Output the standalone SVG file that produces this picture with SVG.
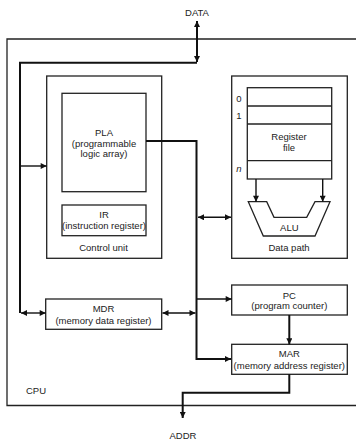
<svg xmlns="http://www.w3.org/2000/svg" width="356" height="439" viewBox="0 0 356 439">
<style>
.box{fill:none;stroke:#222;stroke-width:1.3}
.bus{fill:none;stroke:#111;stroke-width:2}
.ln{fill:none;stroke:#111;stroke-width:1.4}
.ar{marker-end:url(#ah)}
.dbl{marker-start:url(#ah);marker-end:url(#ah)}
text{font-family:"Liberation Sans",Arial,sans-serif;font-size:9.5px;fill:#222;text-anchor:middle}
</style>
<defs>
<marker id="ah" viewBox="0 0 10 10" refX="10" refY="5" markerWidth="7" markerHeight="6" markerUnits="userSpaceOnUse" orient="auto-start-reverse">
<path d="M0,0 L10,5 L0,10 z" fill="#111"/>
</marker>
<marker id="ahb" viewBox="0 0 10 10" refX="10" refY="5" markerWidth="9" markerHeight="6" markerUnits="userSpaceOnUse" orient="auto-start-reverse">
<path d="M0,0 L10,5 L0,10 z" fill="#111"/>
</marker>
</defs>
<g id="cpu">
<path class="box" d="M360,39 H7 V405.5 H360"/>
<text x="26" y="393.5" style="text-anchor:start">CPU</text>
</g>
<g id="control-unit">
<rect class="box" x="46.7" y="76" width="115" height="182.3"/>
<text x="103.5" y="251">Control unit</text>
</g>
<g id="pla">
<rect class="box" x="62" y="93.3" width="84" height="98.4"/>
<text x="104" y="136">PLA</text>
<text x="104" y="146.5">(programmable</text>
<text x="104" y="157">logic array)</text>
</g>
<g id="ir">
<rect class="box" x="62" y="205" width="84" height="30.7"/>
<text x="104" y="217.5">IR</text>
<text x="104" y="229">(instruction register)</text>
</g>
<g id="data-path">
<rect class="box" x="231.7" y="76" width="115.6" height="182.3"/>
<text x="289" y="251">Data path</text>
</g>
<g id="register-file">
<rect class="box" x="247.3" y="87.7" width="84.4" height="91.3"/>
<line class="box" x1="247.3" y1="106" x2="331.7" y2="106"/>
<line class="box" x1="247.3" y1="124" x2="331.7" y2="124"/>
<line class="box" x1="247.3" y1="160.7" x2="331.7" y2="160.7"/>
<text x="289" y="140">Register</text>
<text x="289" y="150.5">file</text>
<text x="239" y="101.5">0</text>
<text x="239" y="118.5">1</text>
<text x="239" y="171.5" style="font-style:italic">n</text>
</g>
<g id="alu">
<path class="box" d="M248.3,201.7 L266.7,201.7 L274,217.3 L306.7,217.3 L315,201.7 L330,201.7 L315,236 L263.3,236 Z"/>
<text x="289.3" y="231">ALU</text>
</g>
<g id="mdr">
<rect class="box" x="45.7" y="299" width="116" height="30.3"/>
<text x="103.5" y="312">MDR</text>
<text x="103.5" y="323.5">(memory data register)</text>
</g>
<g id="pc">
<rect class="box" x="231.7" y="285" width="115.6" height="30"/>
<text x="289.3" y="298.5">PC</text>
<text x="289.3" y="309">(program counter)</text>
</g>
<g id="mar">
<rect class="box" x="231.7" y="344.3" width="115.6" height="30"/>
<text x="289.3" y="357">MAR</text>
<text x="289.3" y="368.5">(memory address register)</text>
</g>
<g id="labels">
<text x="197" y="15.5">DATA</text>
<text x="183" y="438.5">ADDR</text>
</g>
<g id="connectors">
<line class="bus" x1="197" y1="62" x2="197" y2="21" style="marker-start:url(#ahb);marker-end:url(#ahb)"/>
<path class="bus" d="M197,62.7 H20 V313"/>
<line class="ln ar" x1="20" y1="166" x2="46.7" y2="166"/>
<line class="ln dbl" x1="21" y1="313" x2="45.7" y2="313"/>
<path class="bus" d="M146,141 H196.5 V359 H231" style="marker-end:url(#ah)"/>
<line class="ln ar" x1="196.5" y1="299" x2="231.7" y2="299"/>
<line class="ln dbl" x1="162.5" y1="313" x2="195.5" y2="313"/>
<line class="ln dbl" x1="198" y1="217.3" x2="231" y2="217.3"/>
<line class="ln ar" x1="256" y1="179" x2="256" y2="201.7"/>
<line class="ln ar" x1="322.7" y1="179" x2="322.7" y2="201.7"/>
<line class="bus ar" x1="289.3" y1="315" x2="289.3" y2="344.3"/>
<path class="bus" d="M289.3,374.3 V392.7 H182.7 V418" style="marker-end:url(#ah)"/>
</g>
</svg>
